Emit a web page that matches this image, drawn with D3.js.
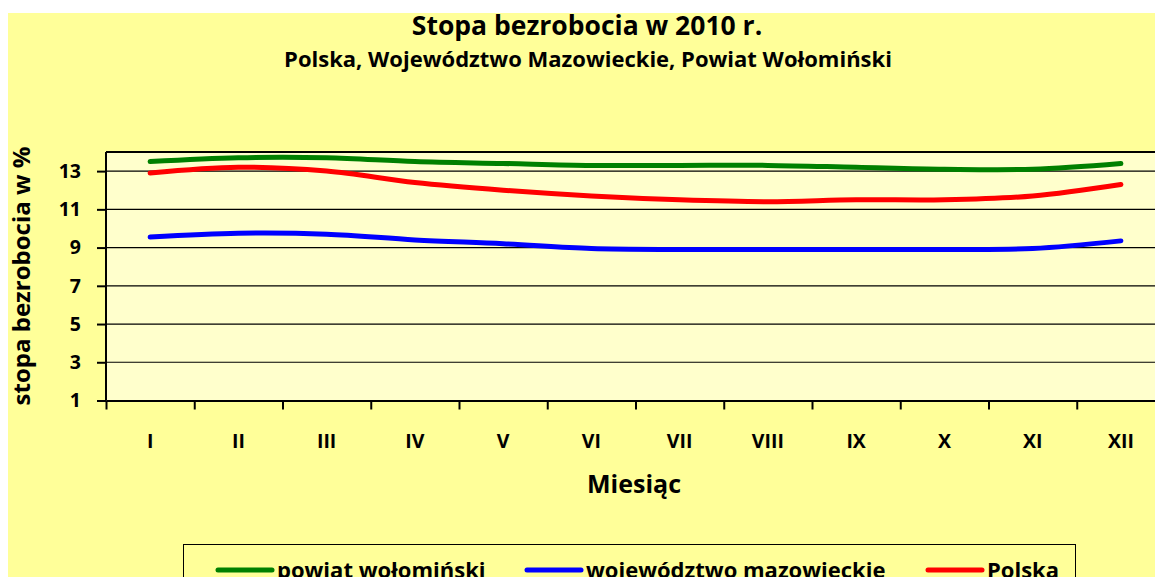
<!DOCTYPE html>
<html>
<head>
<meta charset="utf-8">
<script src="https://d3js.org/d3.v7.min.js"></script>
<style>
  body { margin: 0; background: #fff; }
  svg text { font-family: "Open Sans", "Noto Sans", sans-serif; font-weight: bold; fill: #000; }
  .grid line { stroke: #000; stroke-width: 1.2px; }
  .axis path, .axis line { stroke: #000; stroke-width: 2px; }
  .series { fill: none; stroke-width: 5px; stroke-linecap: round; stroke-linejoin: round; }
</style>
</head>
<body>
<div id="chart"></div>
<script>
  var months = ["I", "II", "III", "IV", "V", "VI", "VII", "VIII", "IX", "X", "XI", "XII"];
  var yTicks = [1, 3, 5, 7, 9, 11, 13];

  // stopa bezrobocia w %
  var powiat = [13.5, 13.7, 13.7, 13.5, 13.4, 13.3, 13.3, 13.3, 13.2, 13.1, 13.1, 13.4];
  var mazowieckie = [9.55, 9.75, 9.7, 9.4, 9.2, 8.95, 8.9, 8.9, 8.9, 8.9, 8.95, 9.35];
  var polska = [12.9, 13.2, 13.0, 12.4, 12.0, 11.7, 11.5, 11.4, 11.5, 11.5, 11.7, 12.3];

  var seriesNames = ["powiat wołomiński", "województwo mazowieckie", "Polska"];
  var seriesColors = ["#008000", "#0000ff", "#ff0000"];
  var seriesValues = [powiat, mazowieckie, polska];

  var width = 1155, height = 577;

  var svg = d3.select("#chart").append("svg")
      .attr("width", width)
      .attr("height", height);

  // chart area
  svg.append("rect")
      .attr("x", 8).attr("y", 13)
      .attr("width", width).attr("height", height)
      .attr("fill", "#ffff99");

  var plot = {left: 106, right: 1165, top: 152, bottom: 400.5};

  var x = d3.scaleBand().domain(months).range([plot.left, plot.right]);
  var xEdge = d3.scaleLinear().domain([0, months.length]).range([plot.left, plot.right]);
  var y = d3.scaleLinear().domain([1, 14]).range([plot.bottom, plot.top]);

  svg.append("rect")
      .attr("x", plot.left).attr("y", plot.top)
      .attr("width", plot.right - plot.left).attr("height", plot.bottom - plot.top)
      .attr("fill", "#ffffcc");

  // gridlines
  svg.append("g").attr("class", "grid")
    .selectAll("line")
      .data(yTicks.slice(1).concat([14]))
    .enter().append("line")
      .attr("x1", plot.left).attr("x2", plot.right)
      .attr("y1", function(d) { return y(d); })
      .attr("y2", function(d) { return y(d); })
      .style("stroke-width", function(d) { return d == 14 ? 2 : 1.2; });

  // titles
  svg.append("text")
      .attr("x", 587).attr("y", 35)
      .attr("text-anchor", "middle")
      .style("font-size", "26.5px")
      .text("Stopa bezrobocia w 2010 r.");

  svg.append("text")
      .attr("x", 588).attr("y", 67)
      .attr("text-anchor", "middle")
      .style("font-size", "22px")
      .text("Polska, Województwo Mazowieckie, Powiat Wołomiński");

  // axes
  var yAxis = svg.append("g").attr("class", "axis")
      .attr("transform", "translate(" + plot.left + ",0)")
      .call(d3.axisLeft(y).tickValues(yTicks).tickSize(9).tickPadding(16).tickSizeOuter(0));
  yAxis.select(".domain").remove();
  yAxis.append("line")
      .attr("x1", 0).attr("x2", 0)
      .attr("y1", plot.top).attr("y2", plot.bottom);
  yAxis.selectAll("text").style("font-size", "19.5px");

  svg.append("g").attr("class", "axis")
      .attr("transform", "translate(0," + plot.bottom + ")")
      .call(d3.axisBottom(xEdge).tickValues(d3.range(0, months.length + 1)).tickSize(9).tickFormat("").tickSizeOuter(0));

  var xLabels = svg.append("g")
      .attr("transform", "translate(0," + plot.bottom + ")")
      .call(d3.axisBottom(x).tickSize(0).tickPadding(34));
  xLabels.select(".domain").remove();
  xLabels.selectAll("text").style("font-size", "19.5px");

  svg.append("text")
      .attr("transform", "translate(30,276) rotate(-90)")
      .attr("text-anchor", "middle")
      .style("font-size", "24px")
      .text("stopa bezrobocia w %");

  svg.append("text")
      .attr("x", 634).attr("y", 493)
      .attr("text-anchor", "middle")
      .style("font-size", "25px")
      .text("Miesiąc");

  // lines
  var line = d3.line()
      .x(function(d, i) { return x(months[i]) + x.bandwidth() / 2; })
      .y(function(d) { return y(d); })
      .curve(d3.curveCatmullRom.alpha(0.5));

  svg.append("g").selectAll("path")
      .data(seriesValues)
    .enter().append("path")
      .attr("class", "series")
      .attr("stroke", function(d, i) { return seriesColors[i]; })
      .attr("d", line);

  // legend
  svg.append("rect")
      .attr("x", 183.5).attr("y", 544.5)
      .attr("width", 892).attr("height", 60)
      .attr("fill", "#ffff99")
      .attr("stroke", "#000").attr("stroke-width", 1);

  var legendX = [218, 527, 928];
  var legend = svg.append("g").selectAll("g")
      .data(seriesNames)
    .enter().append("g")
      .attr("transform", function(d, i) { return "translate(" + legendX[i] + ",570)"; });

  legend.append("line")
      .attr("x1", 0).attr("x2", 54)
      .attr("stroke", function(d, i) { return seriesColors[i]; })
      .attr("stroke-width", 5)
      .attr("stroke-linecap", "round");

  legend.append("text")
      .attr("x", 59)
      .attr("y", 8)
      .style("font-size", "22px")
      .text(function(d) { return d; });
</script>
</body>
</html>
